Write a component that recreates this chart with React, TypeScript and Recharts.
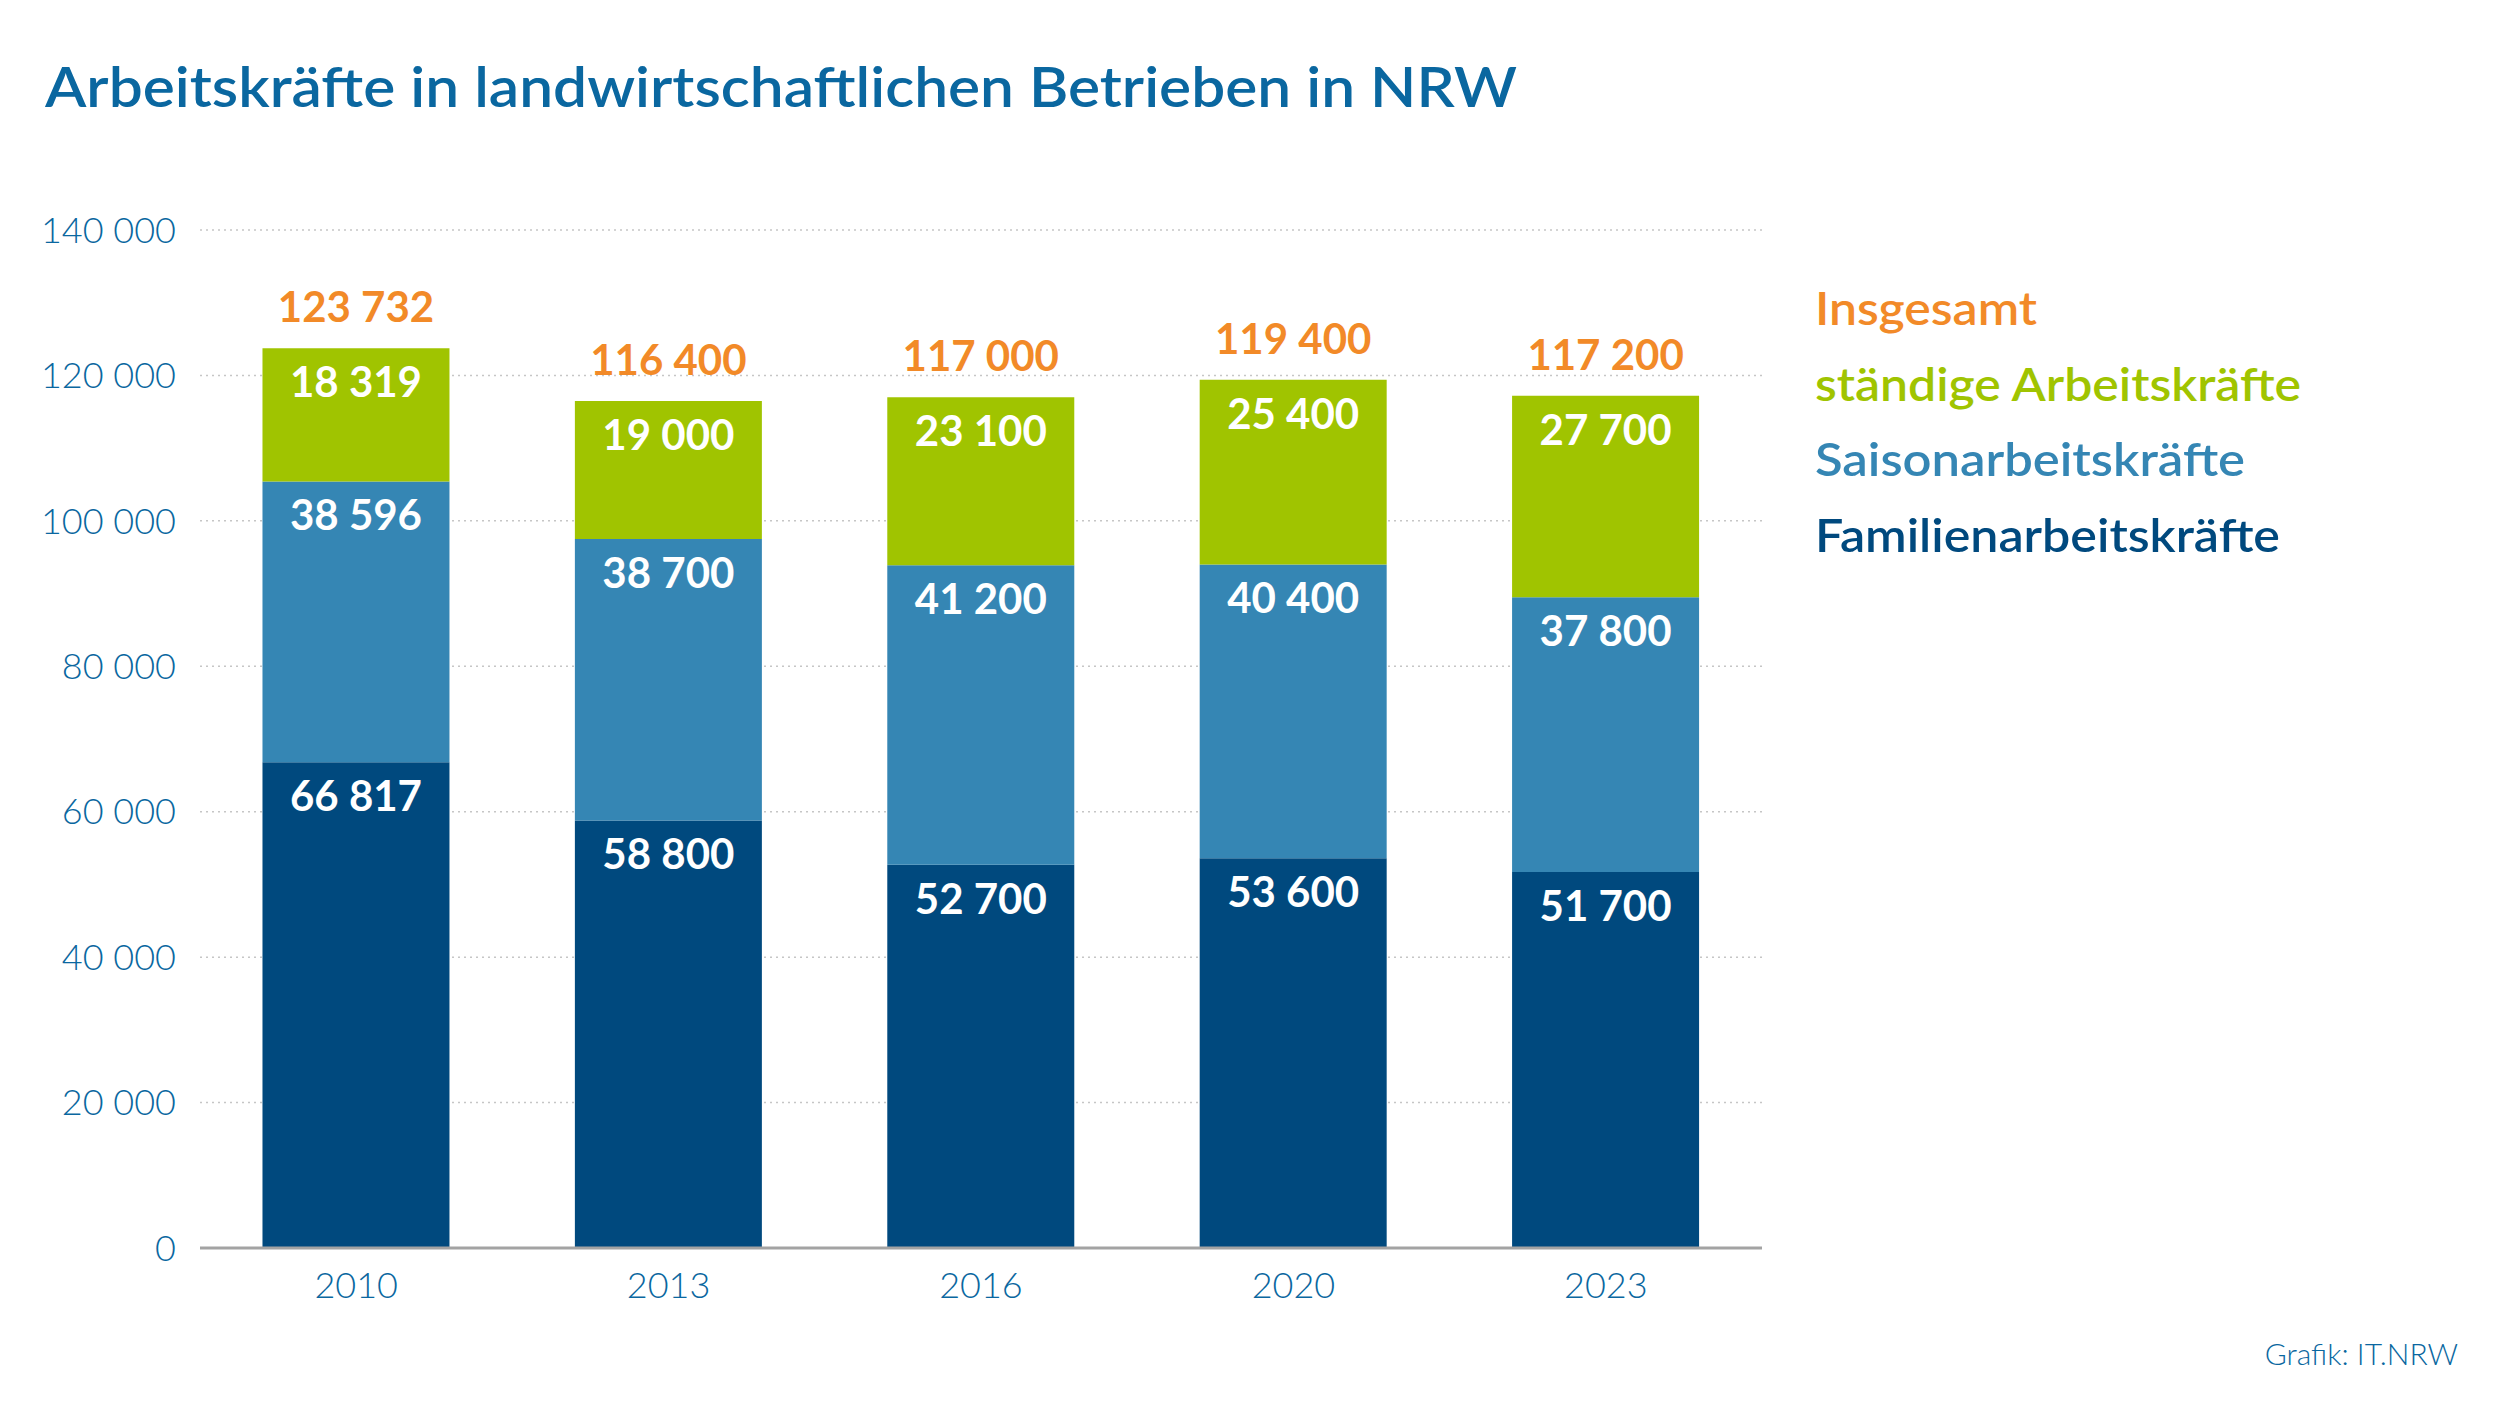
import { BarChart, Bar, XAxis, YAxis, CartesianGrid, LabelList } from 'recharts';

const years = ['2010', '2013', '2016', '2020', '2023'];
const familien = [66817, 58800, 52700, 53600, 51700];
const saison = [38596, 38700, 41200, 40400, 37800];
const staendige = [18319, 19000, 23100, 25400, 27700];
const insgesamt = [123732, 116400, 117000, 119400, 117200];
const yTicks = [0, 20000, 40000, 60000, 80000, 100000, 120000, 140000];

const legendItems = [
  { label: 'Insgesamt', color: '#f28a28', width: 222 },
  { label: 'ständige Arbeitskräfte', color: '#a0c400', width: 486 },
  { label: 'Saisonarbeitskräfte', color: '#3586b4', width: 430 },
  { label: 'Familienarbeitskräfte', color: '#00497e', width: 465 },
];

const FONT = "Lato, 'Open Sans', sans-serif";
const BLUE_TEXT = '#0a67a0';

const fmt = (v: number) => String(v).replace(/\B(?=(\d{3})+(?!\d))/g, ' ');

const data = years.map((year, i) => ({
  year,
  familien: familien[i],
  saison: saison[i],
  staendige: staendige[i],
  insgesamt: insgesamt[i],
}));

const segmentLabel = (props: any) => {
  const { x, y, width, value } = props;
  return (
    <text x={Number(x) + Number(width) / 2} y={Number(y) + 49} textAnchor="middle" fill="#ffffff"
      fontSize={42} fontWeight={700} fontFamily={FONT}>
      {fmt(Number(value))}
    </text>
  );
};

const totalLabel = (props: any) => {
  const { x, y, width, value } = props;
  return (
    <text x={Number(x) + Number(width) / 2} y={Number(y) - 26} textAnchor="middle" fill="#f28a28"
      fontSize={42} fontWeight={700} fontFamily={FONT}>
      {fmt(Number(value))}
    </text>
  );
};

export default function App() {
  return (
    <div style={{ position: 'absolute', left: 0, top: 0, width: 2500, height: 1406, background: '#fff' }}>
      <BarChart width={2500} height={1406} data={data} barCategoryGap="20%"
        margin={{ top: 230, right: 738, bottom: 118, left: 0 }}>
        <CartesianGrid vertical={false} stroke="#c6c6c6" strokeDasharray="2 4" strokeWidth={1.5} />
        <XAxis dataKey="year" height={40} tickLine={false} tickSize={0} tickMargin={24}
          axisLine={{ stroke: '#a3a3a3', strokeWidth: 3 }}
          tick={{ fill: BLUE_TEXT, fontSize: 36, fontWeight: 300, fontFamily: FONT }} />
        <YAxis width={200} domain={[0, 140000]} ticks={yTicks} axisLine={false} tickLine={false}
          tickSize={0} tickMargin={24} tickFormatter={fmt} interval={0}
          tick={{ fill: BLUE_TEXT, fontSize: 36, fontWeight: 300, fontFamily: FONT }} />
        <Bar dataKey="familien" stackId="a" fill="#00497e" isAnimationActive={false}>
          <LabelList dataKey="familien" content={segmentLabel} />
        </Bar>
        <Bar dataKey="saison" stackId="a" fill="#3586b4" isAnimationActive={false}>
          <LabelList dataKey="saison" content={segmentLabel} />
        </Bar>
        <Bar dataKey="staendige" stackId="a" fill="#a0c400" isAnimationActive={false}>
          <LabelList dataKey="staendige" content={segmentLabel} />
          <LabelList dataKey="insgesamt" content={totalLabel} />
        </Bar>
      </BarChart>
      <svg width={2500} height={1406} style={{ position: 'absolute', left: 0, top: 0, pointerEvents: 'none' }}>
        <text x={45} y={107} fill={BLUE_TEXT} fontSize={56} fontWeight={600} fontFamily={FONT}
          textLength={1472} lengthAdjust="spacingAndGlyphs">
          Arbeitskräfte in landwirtschaftlichen Betrieben in NRW
        </text>
        {legendItems.map((item, i) => (
          <text key={item.label} x={1815} y={325 + i * 75.7} fill={item.color} fontSize={46}
            fontWeight={600} fontFamily={FONT} textLength={item.width} lengthAdjust="spacingAndGlyphs">
            {item.label}
          </text>
        ))}
        <text x={2458} y={1365} textAnchor="end" fill={BLUE_TEXT} fontSize={30} fontWeight={300} fontFamily={FONT}>
          Grafik: IT.NRW
        </text>
      </svg>
    </div>
  );
}
